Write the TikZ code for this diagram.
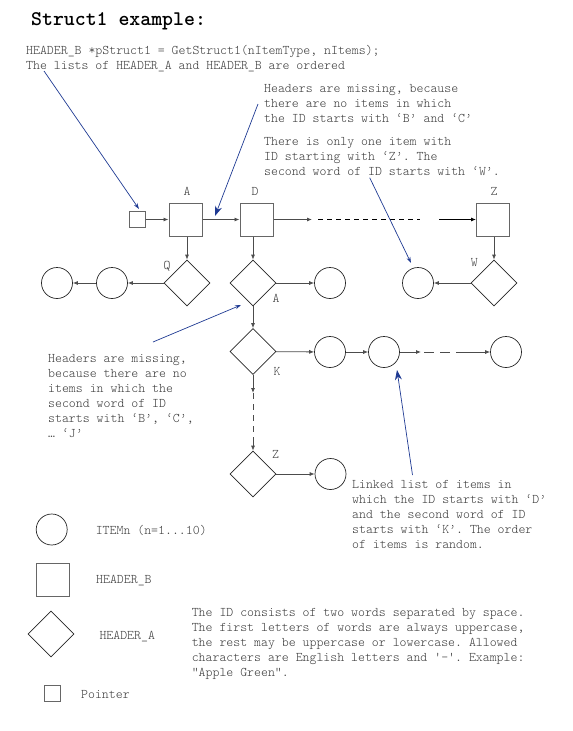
\documentclass[tikz,border=0pt]{standalone}
\usepackage{fontspec}
\setmonofont{Latin Modern Mono Light}
\usetikzlibrary{shapes.geometric,arrows.meta}
\definecolor{linkblue}{HTML}{1F3A93}
\definecolor{inkgray}{HTML}{3A3A3A}

\begin{document}
\begin{tikzpicture}[x=1pt, y=-1pt, >={Latex[length=5pt,width=4pt]},
  every node/.style={font=\ttfamily\fontsize{13.2}{15}\selectfont, text=inkgray, inner sep=0pt},
  note/.style={anchor=north west, align=left},
  key/.style={anchor=west},
  hdrb/.style={shape=rectangle, draw=black!60, line width=1pt, minimum size=33pt},
  ptrbox/.style={shape=rectangle, draw=black!60, line width=1pt, minimum size=16pt},
  hdra/.style={shape=diamond, draw=black!85, line width=0.7pt, minimum width=46pt, minimum height=46pt},
  item/.style={shape=circle, draw=black!85, line width=0.7pt, minimum size=31pt},
  link/.style={->, draw=black!70, line width=0.8pt},
  gap/.style={draw=black!70, line width=0.8pt, dash pattern=on 5pt off 4pt},
  callout/.style={draw=linkblue, line width=0.7pt, -{Stealth[length=6pt,width=4pt]}},
  bigcallout/.style={callout, -{Stealth[length=10pt,width=7pt]}}]
\useasboundingbox (0,0) rectangle (573,731);

% Title and code
\node[anchor=west, font=\ttfamily\bfseries\fontsize{20.8}{22}\selectfont, text=black] (title) at (31,21.7) {Struct1 example:};
\node[note] (code) at (26,45.5) {HEADER\_B *pStruct1 = GetStruct1(nItemType, nItems);\\The lists of HEADER\_A and HEADER\_B are ordered};

% Notes
\node[note] (noteBC) at (264,84.5) {Headers are missing, because\\there are no items in which\\the ID starts with ‘B’ and ‘C’};
\node[note] (noteZ) at (264,137) {There is only one item with\\ID starting with ‘Z’. The\\second word of ID starts with ‘W’.};
\node[note] (noteBJ) at (48,354.5) {Headers are missing,\\because there are no\\items in which the\\second word of ID\\starts with ‘B’, ‘C’,\\… ‘J’};
\node[note] (noteList) at (352,480.5) {Linked list of items in\\which the ID starts with ‘D’\\and the second word of ID\\starts with ‘K’. The order\\of items is random.};
\node[note] (noteID) at (191.6,608.5) {The ID consists of two words separated by space.\\The first letters of words are always uppercase,\\the rest may be uppercase or lowercase. Allowed\\characters are English letters and '-'. Example:\\“Apple Green”.};

% HEADER_B list
\node[ptrbox] (ptr) at (137,219.5) {};
\node[hdrb] (bA) at (185.5,219.5) {};
\node[hdrb] (bD) at (256.5,219.5) {};
\node[hdrb] (bZ) at (493,219.5) {};
\node (lbA) at (187,191) {A};
\node (lbD) at (255,191) {D};
\node (lbZ) at (494,191) {Z};
\coordinate (t1) at (312,219.5);
\coordinate (t2) at (318,219.5);
\coordinate (t3) at (420,219.5);
\coordinate (t4) at (439,219.5);
\draw[link] (ptr) -- (bA);
\draw[link] (bA) -- (bD);
\draw[link] (bD) -- (t1);
\draw[gap, draw=black] (t2) -- (t3);
\draw[link, draw=black] (t4) -- (bZ);

% HEADER_A under A
\node[hdra] (aQ) at (187,283) {};
\node[item] (iQ1) at (112,283) {};
\node[item] (iQ2) at (57,283) {};
\node (laQ) at (167,266) {Q};
\draw[link] (bA.south -| aQ) -- (aQ);
\draw[link] (aQ) -- (iQ1);
\draw[link] (iQ1) -- (iQ2);

% HEADER_A under D
\node[hdra] (aA) at (253,283) {};
\node[item] (iA) at (330,283) {};
\node[hdra] (aK) at (253,351.5) {};
\node[item] (iK1) at (330,352) {};
\node[item] (iK2) at (384,352) {};
\node[item] (iK3) at (506,352) {};
\node[hdra] (aZ) at (253,474) {};
\node[item] (iZ) at (330.5,474) {};
\node (laA) at (276,298) {A};
\node (laK) at (277,371) {K};
\node (laZ) at (275.5,454) {Z};
\coordinate (k1) at (421,352);
\coordinate (k2) at (424,352);
\coordinate (k3) at (466,352);
\coordinate (v1) at (253,393);
\coordinate (v2) at (253,440);
\draw[link] (bD.south -| aA) -- (aA);
\draw[link] (aA) -- (iA);
\draw[link] (aA) -- (aK);
\draw[link] (aK) -- (iK1);
\draw[link] (iK1) -- (iK2);
\draw[link] (iK2) -- (k1);
\draw[gap, dash pattern=on 10pt off 6pt] (k2) -- (k3);
\draw[link] (k3) -- (iK3);
\draw[link] (aK) -- (v1);
\draw[gap, dash pattern=on 6pt off 5pt] (v1) -- (v2);
\draw[link] (v2) -- (aZ);
\draw[link] (aZ) -- (iZ);

% HEADER_A under Z
\node[hdra] (aW) at (494,283) {};
\node[item] (iW) at (418,283) {};
\node (laW) at (474.3,262.3) {W};
\draw[link] (bZ.south -| aW) -- (aW);
\draw[link] (aW) -- (iW);

% Callouts
\coordinate (c1) at (44,71);
\coordinate (c1e) at (139,209);
\coordinate (c2) at (258,104);
\coordinate (c2e) at (215,216);
\coordinate (c3) at (369.7,177.7);
\coordinate (c3e) at (411,263);
\coordinate (c4) at (153,342);
\coordinate (c4e) at (241,305);
\coordinate (c5) at (412.5,475);
\coordinate (c5e) at (397,370);
\draw[callout] (c1) -- (c1e);
\draw[bigcallout] (c2) -- (c2e);
\draw[callout] (c3) -- (c3e);
\draw[callout] (c4) -- (c4e);
\draw[bigcallout] (c5) -- (c5e);

% Legend
\node[item] (kItem) at (51.7,529.5) {};
\node[hdrb] (kHdrB) at (53,580) {};
\node[hdra] (kHdrA) at (51,634) {};
\node[ptrbox] (kPtr) at (52,693) {};
\node[key] (tItem) at (95.6,530) {ITEMn (n=1...10)};
\node[key] (tHdrB) at (96,581) {HEADER\_B};
\node[key] (tHdrA) at (99.3,636.7) {HEADER\_A};
\node[key] (tPtr) at (81,694.3) {Pointer};
\end{tikzpicture}
\end{document}
